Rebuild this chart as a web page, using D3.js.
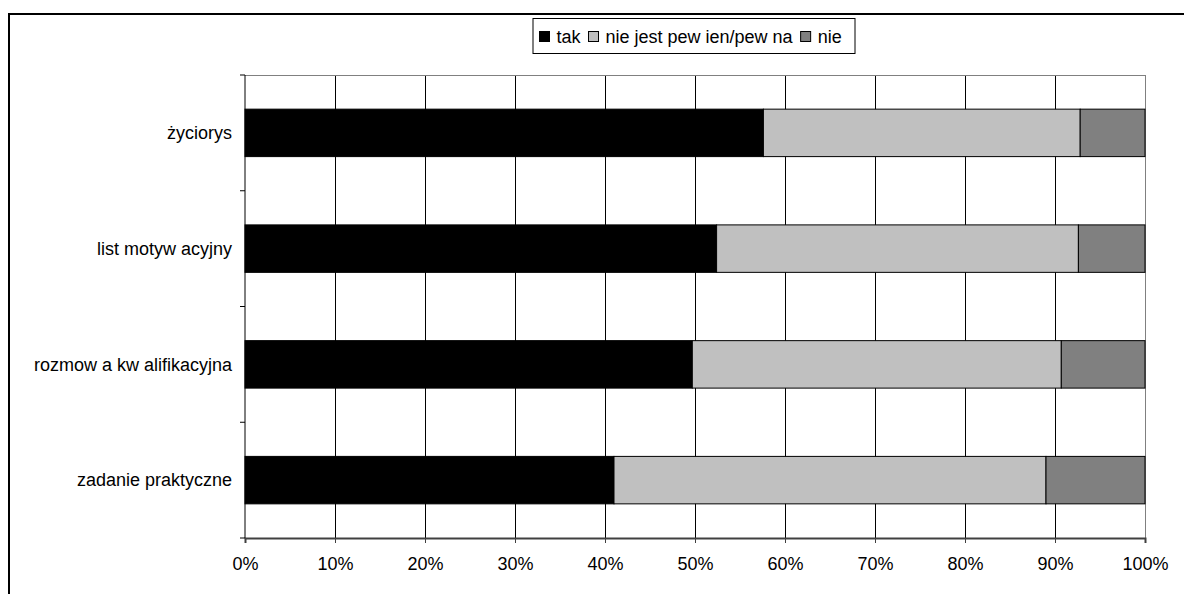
<!DOCTYPE html>
<html><head><meta charset="utf-8">
<script src="https://cdn.jsdelivr.net/npm/d3@7"></script>
<style>
html,body{margin:0;padding:0;background:#fff;}
svg{display:block;font-family:"Liberation Sans",Arial,sans-serif;}
</style></head>
<body>
<svg id="c" width="1184" height="594"></svg>
<script>
const categories = ["życiorys", "list motyw acyjny", "rozmow a kw alifikacyjna", "zadanie praktyczne"];
const seriesNames = ["tak", "nie jest pew ien/pew na", "nie"];
const seriesColors = ["#000000", "#c0c0c0", "#808080"];
const tak = [57.6, 52.4, 49.7, 41.0];
const niePewien = [35.2, 40.2, 41.0, 48.0];
const nie = [7.2, 7.4, 9.3, 11.0];
const xTicks = [0, 10, 20, 30, 40, 50, 60, 70, 80, 90, 100];

const svg = d3.select("#c");
const fs = 18, ls = 0;
const L = 245, R = 1145, T = 75, B = 538;

// outer frame
svg.append("rect").attr("x", 9).attr("y", 14).attr("width", 1200).attr("height", 620)
  .attr("fill", "none").attr("stroke", "#000").attr("stroke-width", 2);

const x = d3.scaleLinear().domain([0, 100]).range([L, R]);
const y = d3.scaleBand().domain(categories).range([T, B]).paddingInner(0.59).paddingOuter(0.295);

// gridlines
svg.append("g").selectAll("line").data(xTicks.slice(1, -1)).join("line")
  .attr("x1", d => x(d)).attr("x2", d => x(d)).attr("y1", T).attr("y2", B)
  .attr("stroke", "#000").attr("stroke-width", 1).attr("shape-rendering", "crispEdges");
// plot border top/right
svg.append("path").attr("d", `M${L},${T}H${R}V${B}`).attr("fill", "none")
  .attr("stroke", "#808080").attr("stroke-width", 1).attr("shape-rendering", "crispEdges");

// stacked data
const rows = categories.map((c, i) => ({cat: c, vals: [tak[i], niePewien[i], nie[i]]}));
const segs = [];
rows.forEach(r => { let acc = 0; r.vals.forEach((v, j) => { segs.push({cat: r.cat, s: j, x0: acc, x1: acc + v}); acc += v; }); });
svg.append("g").selectAll("rect").data(segs).join("rect")
  .attr("x", d => x(d.x0)).attr("width", d => x(d.x1) - x(d.x0))
  .attr("y", d => y(d.cat)).attr("height", y.bandwidth())
  .attr("fill", d => seriesColors[d.s]).attr("stroke", "#000").attr("stroke-width", 1);

// x axis
const xAxis = d3.axisBottom(x).tickValues(xTicks).tickFormat(d => d + "%").tickSize(5).tickPadding(14);
const gx = svg.append("g").attr("transform", `translate(0,${B})`).call(xAxis);
gx.select(".domain").attr("stroke", "#404040").attr("stroke-width", 2);
gx.selectAll(".tick line").attr("stroke", "#404040");
gx.selectAll("text").attr("font-size", fs).attr("letter-spacing", ls).attr("fill", "#000")
  .attr("font-family", "Liberation Sans, Arial, sans-serif");

// y axis
const gy = svg.append("g").attr("transform", `translate(${L},0)`);
gy.append("line").attr("x1", 0).attr("x2", 0).attr("y1", T).attr("y2", B).attr("stroke", "#000");
const bounds = [T].concat(categories.map(c => y(c) + y.bandwidth() + y.step() * y.paddingInner() / 2));
bounds[bounds.length - 1] = B;
gy.selectAll("line.t").data(bounds).join("line").attr("class", "t")
  .attr("x1", -5).attr("x2", 0).attr("y1", d => d).attr("y2", d => d).attr("stroke", "#000");
gy.selectAll("text").data(categories).join("text")
  .attr("x", -13).attr("y", d => y(d) + y.bandwidth() / 2).attr("dy", "0.35em")
  .attr("text-anchor", "end").attr("font-size", fs).attr("letter-spacing", ls).text(d => d);

// legend
const lg = svg.append("g");
const box = lg.append("rect").attr("x", 533).attr("y", 18.5).attr("width", 322).attr("height", 35)
  .attr("fill", "#fff").attr("stroke", "#000").attr("stroke-width", 1);
let cx = 539.5;
seriesNames.forEach((n, i) => {
  lg.append("rect").attr("x", cx).attr("y", 31.5).attr("width", 10).attr("height", 10)
    .attr("fill", seriesColors[i]).attr("stroke", "#000");
  const t = lg.append("text").attr("x", cx + 17).attr("y", 36.5).attr("dy", "0.35em")
    .attr("font-size", fs).attr("letter-spacing", ls).text(n);
  cx += 17 + t.node().getComputedTextLength() + 8;
});
</script>
</body></html>
